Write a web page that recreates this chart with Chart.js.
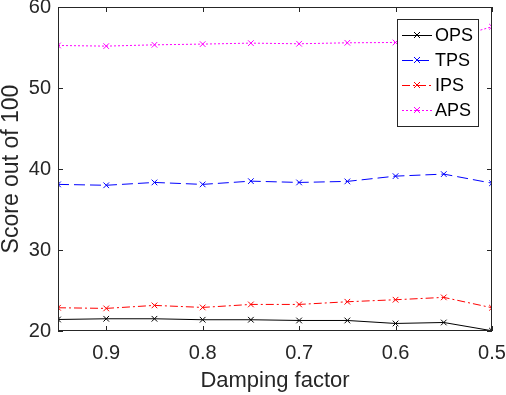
<!DOCTYPE html>
<html><head><meta charset="utf-8">
<script src="https://cdn.jsdelivr.net/npm/chart.js@4/dist/chart.umd.min.js"></script>
<style>html,body{margin:0;padding:0;background:#fff}#w{width:506px;height:395px}</style>
</head><body><div id="w"><canvas id="c" width="506" height="395"></canvas></div>
<script>
const dampingFactors = [0.95, 0.9, 0.85, 0.8, 0.75, 0.7, 0.65, 0.6, 0.55, 0.5];
const opsScores = [21.42, 21.51, 21.51, 21.39, 21.39, 21.30, 21.30, 20.93, 21.05, 20.03];
const tpsScores = [38.10, 37.99, 38.34, 38.10, 38.50, 38.34, 38.47, 39.12, 39.37, 38.25];
const ipsScores = [22.87, 22.79, 23.16, 22.91, 23.28, 23.28, 23.61, 23.86, 24.15, 22.87];
const apsScores = [55.25, 55.17, 55.33, 55.42, 55.54, 55.46, 55.58, 55.62, 55.85, 57.56];
const xTickValues = [0.9, 0.8, 0.7, 0.6, 0.5];
const yTickValues = [20, 30, 40, 50, 60];
const seriesNames = ['OPS', 'TPS', 'IPS', 'APS'];

const FONT = 'Liberation Sans, Arial, sans-serif';
const toPts = v => dampingFactors.map((x, i) => ({x, y: v[i]}));
function ds(label, data, color, dash) {
  return {label, data: toPts(data), borderColor: color, backgroundColor: color,
    borderWidth: 1, borderDash: dash, pointStyle: 'crossRot', pointRadius: 4,
    pointBorderWidth: 1, pointBorderColor: color, tension: 0, fill: false};
}
const boxPlugin = {
  id: 'box',
  afterDatasetsDraw(chart) {
    const {ctx, chartArea: a, scales: {x, y}} = chart;
    ctx.save();
    ctx.strokeStyle = '#262626'; ctx.lineWidth = 1; ctx.setLineDash([]);
    ctx.strokeRect(a.left + 0.5, a.top + 0.5, a.right - a.left - 1, a.bottom - a.top - 1);
    const L = 5;
    ctx.beginPath();
    xTickValues.forEach(v => {
      const px = Math.round(x.getPixelForValue(v)) + 0.5;
      ctx.moveTo(px, a.bottom); ctx.lineTo(px, a.bottom - L);
      ctx.moveTo(px, a.top); ctx.lineTo(px, a.top + L);
    });
    yTickValues.forEach(v => {
      const py = Math.round(y.getPixelForValue(v)) + 0.5;
      ctx.moveTo(a.left, py); ctx.lineTo(a.left + L, py);
      ctx.moveTo(a.right, py); ctx.lineTo(a.right - L, py);
    });
    ctx.stroke();
    // legend
    const lx = 397, ly = 19, lw = 81, lh = 107;
    ctx.fillStyle = '#fff';
    ctx.fillRect(lx, ly, lw, lh);
    ctx.strokeStyle = '#262626';
    ctx.strokeRect(lx + 0.5, ly + 0.5, lw, lh);
    ctx.font = '18px ' + FONT;
    ctx.textBaseline = 'middle';
    chart.data.datasets.forEach((d, i) => {
      const cy = ly + 16 + i * 25;
      ctx.strokeStyle = d.borderColor;
      ctx.setLineDash(d.borderDash || []);
      ctx.beginPath(); ctx.moveTo(lx + 5, cy + 0.5); ctx.lineTo(lx + 35, cy + 0.5); ctx.stroke();
      ctx.setLineDash([]);
      const mx = lx + 20, r = 3;
      ctx.beginPath();
      ctx.moveTo(mx - r, cy - r); ctx.lineTo(mx + r, cy + r);
      ctx.moveTo(mx - r, cy + r); ctx.lineTo(mx + r, cy - r);
      ctx.stroke();
      ctx.fillStyle = '#000';
      ctx.fillText(d.label, lx + 38, cy + 1);
    });
    ctx.restore();
  }
};
new Chart(document.getElementById('c'), {
  type: 'line',
  data: {datasets: [
    ds(seriesNames[0], opsScores, '#000000', []),
    ds(seriesNames[1], tpsScores, '#0000ff', [11, 5]),
    ds(seriesNames[2], ipsScores, '#ff0000', [8, 3, 2, 3]),
    ds(seriesNames[3], apsScores, '#ff00ff', [2, 2])
  ]},
  options: {
    responsive: false, animation: false, devicePixelRatio: 1,
    layout: {padding: {top: 7, right: 14, left: 0, bottom: 0}},
    plugins: {legend: {display: false}, tooltip: {enabled: false}},
    scales: {
      x: {type: 'linear', reverse: true, min: 0.5, max: 0.95,
        afterBuildTicks: s => { s.ticks = xTickValues.map(v => ({value: v})); },
        afterFit: s => { s.height = 64; s.paddingLeft = 0; s.paddingRight = 0; },
        grid: {display: false, drawTicks: false}, border: {display: false},
        ticks: {padding: 10, color: '#262626', font: {family: FONT, size: 20},
          callback: v => String(v)},
        title: {display: true, text: 'Damping factor', color: '#262626',
          font: {family: FONT, size: 22}, padding: {top: 0, bottom: 1}}
      },
      y: {type: 'linear', min: 20, max: 60,
        afterBuildTicks: s => { s.ticks = yTickValues.map(v => ({value: v})); },
        afterFit: s => { s.width = 58; s.paddingTop = 0; s.paddingBottom = 0; },
        grid: {display: false, drawTicks: false}, border: {display: false},
        ticks: {padding: 7, color: '#262626', font: {family: FONT, size: 20}},
        title: {display: true, text: 'Score out of 100', color: '#262626',
          font: {family: FONT, size: 23, lineHeight: 1.05}, padding: {bottom: 0, top: 0}}
      }
    }
  },
  plugins: [boxPlugin]
});
</script></body></html>
